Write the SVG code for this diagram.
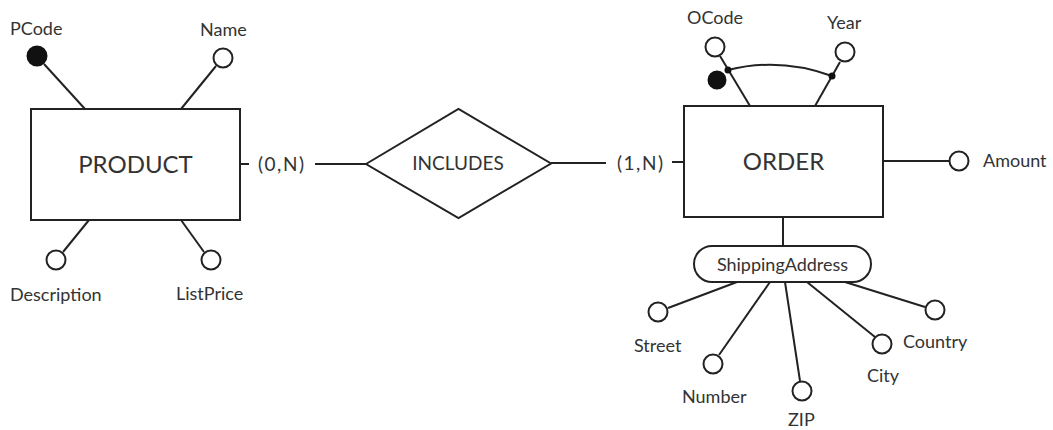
<svg xmlns="http://www.w3.org/2000/svg" width="1053" height="430" viewBox="0 0 1053 430">
<style>
.ln{stroke:#222;stroke-width:2;fill:none}
.ent{fill:#fff;stroke:#222;stroke-width:2}
.att{fill:#fff;stroke:#222;stroke-width:2}
.key{fill:#111;stroke:#111;stroke-width:2}
text{font-family:Lato,"Open Sans","Noto Sans",sans-serif;fill:#333;font-size:18px;font-weight:400}
.big{font-size:24px}
.mid{text-anchor:middle}
.card{letter-spacing:1.5px;font-size:19px}
</style>
<rect width="1053" height="430" fill="#fff"/>
<g id="connectors">
<line class="ln" x1="240" y1="164" x2="249" y2="164"/>
<line class="ln" x1="315" y1="164" x2="366" y2="164"/>
<line class="ln" x1="551" y1="163" x2="606" y2="163"/>
<line class="ln" x1="672" y1="162" x2="684" y2="162"/>
<line class="ln" x1="44" y1="64" x2="85" y2="109"/>
<line class="ln" x1="216" y1="66" x2="181" y2="109"/>
<line class="ln" x1="89" y1="220" x2="63" y2="252"/>
<line class="ln" x1="181" y1="220" x2="204" y2="252"/>
<line class="ln" x1="720" y1="56" x2="750" y2="106"/>
<line class="ln" x1="840" y1="62" x2="815" y2="106"/>
<path class="ln" d="M728,70 Q780,57 832,76"/>
<line class="ln" x1="883" y1="161" x2="949" y2="161"/>
<line class="ln" x1="783" y1="217" x2="783" y2="246"/>
<line class="ln" x1="737" y1="282" x2="668" y2="308"/>
<line class="ln" x1="770" y1="282" x2="719" y2="355"/>
<line class="ln" x1="785" y1="282" x2="800" y2="381"/>
<line class="ln" x1="807" y1="282" x2="875" y2="337"/>
<line class="ln" x1="845" y1="282" x2="925" y2="307"/>
</g>
<g id="product">
<rect class="ent" x="31" y="109" width="209" height="111"/>
<text class="big mid" x="135.5" y="173">PRODUCT</text>
</g>
<g id="pcode">
<circle class="key" cx="37" cy="56" r="9.5"/>
<text x="10" y="35">PCode</text>
</g>
<g id="name">
<circle class="att" cx="223" cy="58" r="9.5"/>
<text x="200" y="36">Name</text>
</g>
<g id="description">
<circle class="att" cx="56" cy="260" r="9.5"/>
<text x="10" y="301">Description</text>
</g>
<g id="listprice">
<circle class="att" cx="211" cy="260" r="9.5"/>
<text x="176" y="300">ListPrice</text>
</g>
<g id="card-product">
<text class="card" x="258" y="171">(0,N)</text>
</g>
<g id="includes">
<polygon class="ent" points="366,164 458.5,109 551,163.5 458.5,218"/>
<text class="mid" x="458" y="170" style="font-size:19px">INCLUDES</text>
</g>
<g id="card-order">
<text class="card" x="617" y="170">(1,N)</text>
</g>
<g id="order">
<rect class="ent" x="684" y="106" width="199" height="111"/>
<text class="big mid" x="783.5" y="170">ORDER</text>
</g>
<g id="ocode">
<circle class="att" cx="715" cy="47" r="9.5"/>
<circle class="key" cx="717" cy="80" r="8.5"/>
<circle cx="728" cy="70" r="3.5" fill="#111"/>
<text x="687" y="24">OCode</text>
</g>
<g id="year">
<circle class="att" cx="845" cy="52" r="9.5"/>
<circle cx="832" cy="76" r="3.5" fill="#111"/>
<text x="827" y="29">Year</text>
</g>
<g id="amount">
<circle class="att" cx="959" cy="161" r="9.5"/>
<text x="983" y="167">Amount</text>
</g>
<g id="shippingaddress">
<rect class="ent" x="694" y="246" width="177" height="36" rx="18"/>
<text class="mid" x="782.5" y="271">ShippingAddress</text>
</g>
<g id="street">
<circle class="att" cx="658" cy="312" r="9.5"/>
<text x="634" y="352">Street</text>
</g>
<g id="number">
<circle class="att" cx="713" cy="364" r="9.5"/>
<text x="682" y="403">Number</text>
</g>
<g id="zip">
<circle class="att" cx="802" cy="391" r="9.5"/>
<text x="788" y="426">ZIP</text>
</g>
<g id="city">
<circle class="att" cx="882" cy="344" r="9.5"/>
<text x="867" y="382">City</text>
</g>
<g id="country">
<circle class="att" cx="935" cy="310" r="9.5"/>
<text x="903" y="348">Country</text>
</g>
</svg>
